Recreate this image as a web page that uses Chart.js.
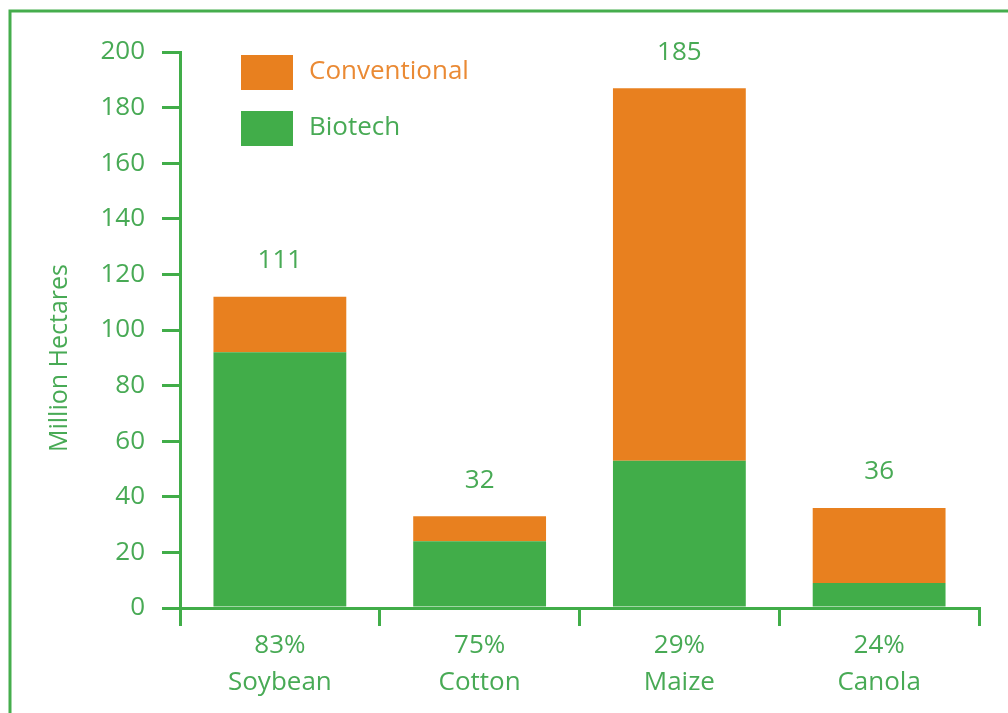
<!DOCTYPE html>
<html>
<head>
<meta charset="utf-8">
<script src="https://cdn.jsdelivr.net/npm/chart.js@4.4.0/dist/chart.umd.min.js"></script>
<style>
  html, body { margin: 0; padding: 0; background: #ffffff; }
  #c { display: block; }
</style>
</head>
<body>
<canvas id="c" width="1008" height="713"></canvas>
<script>
// ---- data ----
const crops = ['Soybean', 'Cotton', 'Maize', 'Canola'];
const biotechShare = ['83%', '75%', '29%', '24%'];
const biotech = [92, 24, 53, 9];
const conventional = [20, 9, 134, 27];
const totalLabels = ['111', '32', '185', '36'];
const seriesNames = ['Biotech', 'Conventional'];
const yTitle = 'Million Hectares';

const GREEN = '#41ad49';
const ORANGE = '#e8801f';
const TEXT_GREEN = '#48aa55';
const TEXT_ORANGE = '#ea8a34';
const FONT = "'Open Sans', 'Noto Sans', sans-serif";

const decor = {
  id: 'decor',
  beforeDraw(chart) {
    const ctx = chart.ctx;
    ctx.save();
    ctx.fillStyle = '#ffffff';
    ctx.fillRect(0, 0, chart.width, chart.height);
    // frame (top + left)
    ctx.strokeStyle = '#45ad4d';
    ctx.lineWidth = 3;
    ctx.beginPath();
    ctx.moveTo(10, chart.height);
    ctx.lineTo(10, 11);
    ctx.lineTo(chart.width, 11);
    ctx.stroke();
    ctx.restore();
  },
  afterDraw(chart) {
    const ctx = chart.ctx;
    ctx.save();
    // legend
    const items = [
      { name: seriesNames[1], color: ORANGE, text: TEXT_ORANGE, y: 55 },
      { name: seriesNames[0], color: GREEN, text: TEXT_GREEN, y: 111 }
    ];
    ctx.font = '26px ' + FONT;
    ctx.textBaseline = 'middle';
    ctx.textAlign = 'left';
    items.forEach(it => {
      ctx.fillStyle = it.color;
      ctx.fillRect(241, it.y, 52, 35);
      ctx.fillStyle = it.text;
      ctx.fillText(it.name, 309, it.y + 17);
    });
    // y title
    ctx.save();
    ctx.translate(60, 358);
    ctx.rotate(-Math.PI / 2);
    ctx.textAlign = 'center';
    ctx.textBaseline = 'middle';
    ctx.font = '25px ' + FONT;
    ctx.fillStyle = TEXT_GREEN;
    ctx.fillText(yTitle, 0, 0);
    ctx.restore();
    // totals above bars
    const meta = chart.getDatasetMeta(1);
    ctx.font = '26px ' + FONT;
    ctx.textAlign = 'center';
    ctx.textBaseline = 'middle';
    ctx.fillStyle = TEXT_GREEN;
    meta.data.forEach((bar, i) => {
      ctx.fillText(totalLabels[i], bar.x, bar.y - 36);
    });
    ctx.restore();
  }
};

new Chart(document.getElementById('c'), {
  type: 'bar',
  data: {
    labels: crops.map((c, i) => [biotechShare[i], c]),
    datasets: [
      { label: seriesNames[0], data: biotech, backgroundColor: GREEN, barPercentage: 0.665, categoryPercentage: 1 },
      { label: seriesNames[1], data: conventional, backgroundColor: ORANGE, barPercentage: 0.665, categoryPercentage: 1 }
    ]
  },
  options: {
    responsive: false,
    devicePixelRatio: 1,
    animation: false,
    layout: { padding: { left: 0, top: 52, right: 29, bottom: 0 } },
    plugins: { legend: { display: false }, tooltip: { enabled: false } },
    scales: {
      x: {
        stacked: true,
        offset: true,
        grid: { display: true, drawOnChartArea: false, drawTicks: true, tickLength: 18, color: GREEN, lineWidth: 3, offset: true },
        border: { display: true, color: GREEN, width: 3 },
        ticks: { font: { family: FONT, size: 26, lineHeight: 1.42 }, color: TEXT_GREEN, padding: 1, maxRotation: 0 },
        afterFit(s) { s.height = 105; }
      },
      y: {
        stacked: true,
        min: 0,
        max: 200,
        grid: { display: true, drawOnChartArea: false, drawTicks: true, tickLength: 18, color: GREEN, lineWidth: 3 },
        border: { display: true, color: GREEN, width: 3 },
        ticks: { stepSize: 20, font: { family: FONT, size: 26 }, color: TEXT_GREEN, padding: 17 },
        afterFit(s) { s.width = 180; }
      }
    }
  },
  plugins: [decor]
});
</script>
</body>
</html>
